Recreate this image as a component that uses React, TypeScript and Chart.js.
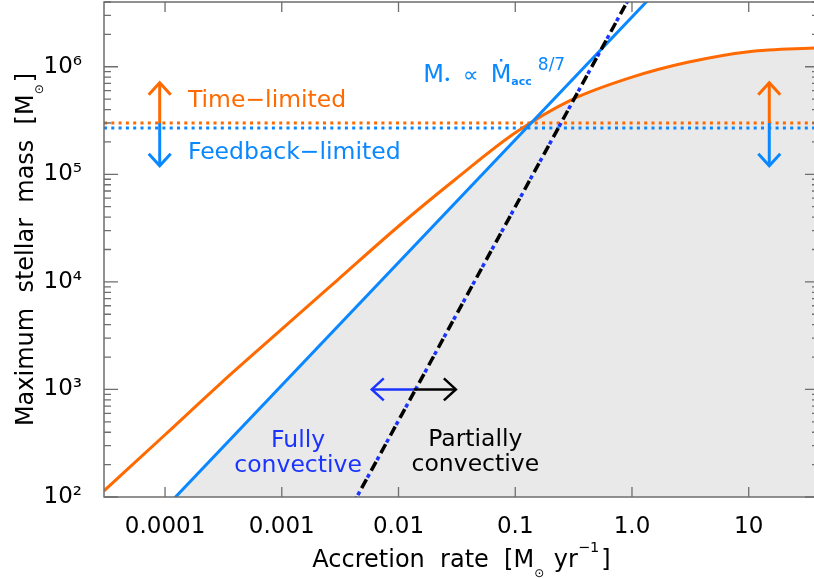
import React, { useEffect, useRef } from "react";
import { Chart, registerables } from "chart.js";

Chart.register(...registerables);

// ---------- data ----------
const xTicks = [1e-4, 1e-3, 1e-2, 0.1, 1, 10];
const xTickLabels = ["0.0001", "0.001", "0.01", "0.1", "1.0", "10"];
const yMajorTicks = [1e2, 1e3, 1e4, 1e5, 1e6];
const yTickLabels = ["10²", "10³", "10⁴", "10⁵", "10⁶"];

// time-limited (orange) curve
const timeRate = [3e-5, 1e-4, 3e-4, 1e-3, 3e-3, 1e-2, 3e-2, 0.1, 0.3, 1, 3, 10, 40];
const timeMass = [114, 379, 1140, 3630, 1.04e4, 3.29e4, 8.8e4, 2.43e5, 4.9e5, 8.0e5, 1.1e6, 1.38e6, 1.5e6];

// feedback-limited (blue) line, M ∝ Mdot^(8/7)
const feedbackRate = [1e-4, 2];
const feedbackMass = [79, 6.4e6];

// fully / partially convective boundary (dashed)
const convRate = [0.004, 1];
const convMass = [83, 4.85e6];

const xRange = [3e-5, 40];
const yRange = [100, 4e6];

const timeLimitMass = 3.0e5;
const feedbackLimitMass = 2.7e5;

const limitArrowRates = [9e-5, 15];
const limitArrowUp = 7.1e5;
const limitArrowDown = 1.2e5;

const convArrowMass = 1e3;
const convArrowRates = [0.0059, 0.0134, 0.031];

// ---------- styles ----------
const ORANGE = "#ff6a00";
const BLUE = "#0a88ff";
const DARKBLUE = "#1a34ff";
const FILL = "#e9e9e9";
const AXIS = "#6e6e6e";
const FONT = "'DejaVu Sans', sans-serif";

type Run = { text: string; size: number; dy?: number; gap?: number; bold?: boolean };

function drawRuns(ctx: CanvasRenderingContext2D, runs: Run[], x: number, y: number, align: "left" | "center") {
  let total = 0;
  for (const r of runs) {
    ctx.font = `${r.bold ? "bold " : ""}${r.size}px ${FONT}`;
    total += (r.gap || 0) + ctx.measureText(r.text).width;
  }
  let cx = align === "center" ? x - total / 2 : x;
  ctx.textAlign = "left";
  ctx.textBaseline = "alphabetic";
  for (const r of runs) {
    ctx.font = `${r.bold ? "bold " : ""}${r.size}px ${FONT}`;
    cx += r.gap || 0;
    ctx.fillText(r.text, cx, y + (r.dy || 0));
    cx += ctx.measureText(r.text).width;
  }
}

function arrow(ctx: CanvasRenderingContext2D, x1: number, y1: number, x2: number, y2: number, color: string, width: number, head: boolean) {
  ctx.save();
  ctx.strokeStyle = color;
  ctx.lineWidth = width;
  ctx.lineCap = "butt";
  ctx.beginPath();
  ctx.moveTo(x1, y1);
  ctx.lineTo(x2, y2);
  ctx.stroke();
  if (head) {
    const ang = Math.atan2(y2 - y1, x2 - x1);
    const L = 12, W = 11;
    const bx = x2 - L * Math.cos(ang), by = y2 - L * Math.sin(ang);
    const px = -Math.sin(ang), py = Math.cos(ang);
    ctx.lineJoin = "miter";
    ctx.beginPath();
    ctx.moveTo(bx + W * px, by + W * py);
    ctx.lineTo(x2, y2);
    ctx.lineTo(bx - W * px, by - W * py);
    ctx.stroke();
  }
  ctx.restore();
}

const customPlugin = {
  id: "custom",
  beforeDatasetsDraw(chart: any) {
    const { ctx, chartArea: a } = chart;
    const orangeMeta = chart.getDatasetMeta(0);
    const blueMeta = chart.getDatasetMeta(1);
    ctx.save();
    ctx.beginPath();
    ctx.rect(a.left, a.top, a.right - a.left, a.bottom - a.top);
    ctx.clip();
    // region below the feedback line
    const bp = blueMeta.data;
    ctx.beginPath();
    ctx.moveTo(bp[0].x, bp[0].y);
    for (let i = 1; i < bp.length; i++) ctx.lineTo(bp[i].x, bp[i].y);
    const bl = bp[bp.length - 1];
    ctx.lineTo(a.right + 300, bl.y);
    ctx.lineTo(a.right + 300, a.bottom + 300);
    ctx.lineTo(bp[0].x, a.bottom + 300);
    ctx.closePath();
    ctx.clip();
    // region below the time-limited curve
    const line = orangeMeta.dataset;
    const op = orangeMeta.data;
    ctx.beginPath();
    if (line && typeof line.path === "function") {
      if (typeof line.updateControlPoints === "function") line.updateControlPoints(a, "x");
      line.path(ctx);
    } else {
      ctx.moveTo(op[0].x, op[0].y);
      for (let i = 1; i < op.length; i++) ctx.lineTo(op[i].x, op[i].y);
    }
    ctx.lineTo(op[op.length - 1].x, a.bottom + 300);
    ctx.lineTo(op[0].x, a.bottom + 300);
    ctx.closePath();
    ctx.fillStyle = FILL;
    ctx.fill();
    ctx.restore();
  },
  afterDatasetsDraw(chart: any) {
    const { ctx, chartArea: a } = chart;
    const xs = chart.scales.x;
    const ys = chart.scales.y;
    const X = (v: number) => xs.getPixelForValue(v);
    const Y = (v: number) => ys.getPixelForValue(v);

    // vertical limit arrows
    for (const r of limitArrowRates) {
      arrow(ctx, X(r), Y(timeLimitMass), X(r), Y(limitArrowUp), ORANGE, 3, true);
      arrow(ctx, X(r), Y(timeLimitMass), X(r), Y(limitArrowDown), BLUE, 3, true);
    }
    // horizontal convective arrows
    const ya = Y(convArrowMass);
    arrow(ctx, X(convArrowRates[1]), ya, X(convArrowRates[0]), ya, DARKBLUE, 2.5, true);
    arrow(ctx, X(convArrowRates[1]), ya, X(convArrowRates[2]), ya, "#000", 2.5, true);

    // frame
    ctx.save();
    ctx.strokeStyle = AXIS;
    ctx.lineWidth = 1.5;
    ctx.strokeRect(a.left, a.top, a.right - a.left, a.bottom - a.top);
    ctx.lineWidth = 1.3;
    ctx.beginPath();
    for (const t of xs.ticks) {
      const px = X(t.value);
      ctx.moveTo(px, a.bottom);
      ctx.lineTo(px, a.bottom - 10);
      ctx.moveTo(px, a.top);
      ctx.lineTo(px, a.top + 10);
    }
    for (const t of ys.ticks) {
      const py = Y(t.value);
      const major = yMajorTicks.some((m) => Math.abs(m - t.value) / m < 1e-6);
      const len = major ? 14 : 7;
      ctx.moveTo(a.left, py);
      ctx.lineTo(a.left + len, py);
      ctx.moveTo(a.right, py);
      ctx.lineTo(a.right - len, py);
    }
    ctx.stroke();
    ctx.restore();

    // annotations
    ctx.save();
    ctx.fillStyle = ORANGE;
    drawRuns(ctx, [{ text: "Time−limited", size: 23.5 }], X(1.57e-4), Y(4.2e5), "left");
    ctx.fillStyle = BLUE;
    drawRuns(ctx, [{ text: "Feedback−limited", size: 23.5 }], X(1.57e-4), Y(1.38e5), "left");
    drawRuns(
      ctx,
      [
        { text: "M", size: 24 },
        { text: "•", size: 12, dy: 2, gap: 0 },
        { text: "∝", size: 22, gap: 12 },
        { text: "Ṁ", size: 24, gap: 12 },
        { text: "acc", size: 11, bold: true, dy: 3 },
        { text: "8/7", size: 17, dy: -12, gap: 6 },
      ],
      X(0.01626),
      Y(7.2e5),
      "left"
    );
    ctx.fillStyle = DARKBLUE;
    drawRuns(ctx, [{ text: "Fully", size: 23.5 }], X(1.38e-3), Y(290), "center");
    drawRuns(ctx, [{ text: "convective", size: 23.5 }], X(1.38e-3), Y(169), "center");
    ctx.fillStyle = "#000";
    drawRuns(ctx, [{ text: "Partially", size: 23.5 }], X(0.0455), Y(301), "center");
    drawRuns(ctx, [{ text: "convective", size: 23.5 }], X(0.0455), Y(175), "center");

    // axis titles
    const cx = (a.left + a.right) / 2;
    drawRuns(
      ctx,
      [
        { text: "Accretion  rate  [M", size: 24 },
        { text: "⊙", size: 12, dy: 10 },
        { text: " yr", size: 24, gap: 2 },
        { text: "−1", size: 14.5, dy: -15 },
        { text: "]", size: 24, gap: 2 },
      ],
      cx,
      566.7,
      "center"
    );
    ctx.translate(33, (a.top + a.bottom) / 2);
    ctx.rotate(-Math.PI / 2);
    drawRuns(
      ctx,
      [
        { text: "Maximum  stellar  mass  [M", size: 24 },
        { text: "⊙", size: 12, dy: 10 },
        { text: "]", size: 24, gap: 2 },
      ],
      0,
      0,
      "center"
    );
    ctx.restore();
  },
};

export default function App() {
  const ref = useRef<HTMLCanvasElement | null>(null);
  useEffect(() => {
    if (!ref.current) return;
    const pts = (xs: number[], ys: number[]) => xs.map((x, i) => ({ x, y: ys[i] }));
    const chart = new Chart(ref.current, {
      type: "line",
      data: {
        datasets: [
          {
            data: pts(timeRate, timeMass),
            borderColor: ORANGE,
            borderWidth: 3,
            pointRadius: 0,
            cubicInterpolationMode: "monotone",
            order: 3,
          },
          {
            data: pts(feedbackRate, feedbackMass),
            borderColor: BLUE,
            borderWidth: 3,
            pointRadius: 0,
            order: 2,
          },
          {
            data: pts(convRate, convMass),
            borderColor: DARKBLUE,
            borderWidth: 3.5,
            borderDash: [4, 16],
            borderDashOffset: 8,
            pointRadius: 0,
            order: 1,
          },
          {
            data: pts(convRate, convMass),
            borderColor: "#000",
            borderWidth: 3.5,
            borderDash: [10, 10],
            borderDashOffset: 0,
            pointRadius: 0,
            order: 0,
          },
          {
            data: pts(xRange, [timeLimitMass, timeLimitMass]),
            borderColor: ORANGE,
            borderWidth: 3,
            borderDash: [3, 4.3],
            pointRadius: 0,
            order: 5,
          },
          {
            data: pts(xRange, [feedbackLimitMass, feedbackLimitMass]),
            borderColor: BLUE,
            borderWidth: 3,
            borderDash: [3, 4.3],
            pointRadius: 0,
            order: 6,
          },
        ] as any,
      },
      options: {
        animation: false,
        responsive: false,
        devicePixelRatio: 1,
        parsing: false as any,
        layout: { padding: { top: 2, right: 11, left: 0, bottom: 0 } },
        plugins: { legend: { display: false }, tooltip: { enabled: false } },
        scales: {
          x: {
            type: "logarithmic",
            min: xRange[0],
            max: xRange[1],
            grid: { display: false },
            border: { display: false },
            afterBuildTicks: (s: any) => {
              s.ticks = xTicks.map((v) => ({ value: v }));
            },
            afterFit: (s: any) => {
              s.height = 82;
              s.paddingLeft = 0;
              s.paddingRight = 0;
              s.paddingTop = 0;
              s.paddingBottom = 0;
            },
            ticks: {
              autoSkip: false,
              maxRotation: 0,
              padding: 8,
              color: "#000",
              font: { size: 23, family: FONT },
              callback: (_v: any, i: number) => xTickLabels[i],
            },
          } as any,
          y: {
            type: "logarithmic",
            min: yRange[0],
            max: yRange[1],
            grid: { display: false },
            border: { display: false },
            afterBuildTicks: (s: any) => {
              const t: { value: number }[] = [];
              for (const m of yMajorTicks) {
                for (let k = 1; k <= 9; k++) {
                  const v = m * k;
                  if (v >= yRange[0] && v <= yRange[1]) t.push({ value: v });
                }
              }
              s.ticks = t;
            },
            afterFit: (s: any) => {
              s.width = 104;
              s.paddingLeft = 0;
              s.paddingRight = 0;
              s.paddingTop = 0;
              s.paddingBottom = 0;
            },
            ticks: {
              autoSkip: false,
              padding: 14,
              color: "#000",
              font: { size: 23, family: FONT },
              callback: (v: any) => {
                const idx = yMajorTicks.findIndex((m) => Math.abs(m - Number(v)) / m < 1e-6);
                return idx >= 0 ? yTickLabels[idx] : "";
              },
            },
          } as any,
        },
      },
      plugins: [customPlugin],
    } as any);
    return () => chart.destroy();
  }, []);
  return (
    <div style={{ position: "fixed", left: 0, top: 0, width: 814, height: 579, overflow: "hidden", background: "#fff" }}>
      <canvas ref={ref} width={830} height={579} style={{ display: "block", width: 830, height: 579 }} />
    </div>
  );
}
